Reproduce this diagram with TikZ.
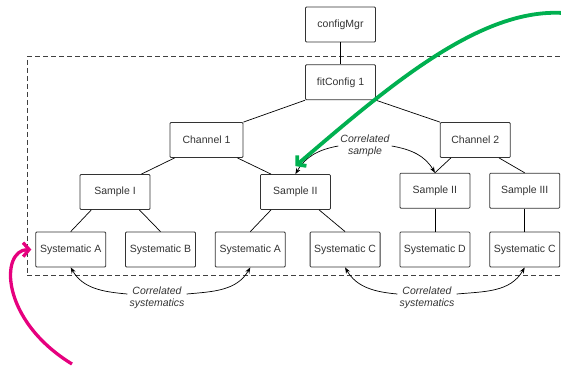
\documentclass[tikz,border=0pt]{standalone}
\usepackage{fontspec}
\setmainfont{Liberation Sans}
\usepackage{xcolor}
\usepackage{tikz}
\usetikzlibrary{arrows.meta, positioning, fit, backgrounds, calc}

\definecolor{boxline}{HTML}{333333}
\definecolor{hlgreen}{HTML}{00B050}
\definecolor{hlpink}{HTML}{E6007E}

\begin{document}
\begin{tikzpicture}[
  x=1pt, y=1pt,
  node distance=23pt and 19pt,
  box/.style={rectangle, draw=boxline, line width=0.8pt, rounded corners=1pt, minimum width=70pt, minimum height=35pt, inner sep=2pt, text=black!80, font=\fontsize{10.5}{12.5}\selectfont},
  note/.style={align=center, inner sep=2pt, text=black!80, font=\fontsize{10.5}{12}\selectfont\itshape},
  group/.style={rectangle, draw=black!75, line width=0.9pt, dash pattern=on 5pt off 3pt, inner sep=8pt},
  link/.style={draw=black, line width=0.7pt},
  arrow/.style={draw=black, line width=0.7pt, -{Stealth[length=6pt,width=4.5pt]}},
  callout/.style={line width=3.8pt, -{Straight Barb[length=6pt,width=14pt]}}
]
\useasboundingbox (0,0) rectangle (561,-365);

% Top of the tree
\node[box] (cfgmgr) at (340.5,-24.5) {configMgr};
\node[box, below=22pt of cfgmgr] (fitcfg) {fitConfig 1};

% Channels
\node[box, minimum width=73pt] (chan1) at (206.5,-140) {Channel 1};
\node[box] (chan2) at (475.3,-140) {Channel 2};

% Systematics row
\node[box] (sysA1) at (70.7,-249.5) {Systematic A};
\node[box, right=of sysA1] (sysB) {Systematic B};
\node[box, right=of sysB] (sysA2) {Systematic A};
\node[box, right=24pt of sysA2] (sysC1) {Systematic C};
\node[box, right=of sysC1] (sysD) {Systematic D};
\node[box, right=of sysD] (sysC2) {Systematic C};

% Samples
\node[box] (sI) at (115,-192) {Sample I};
\node[box] (sII) at (295.4,-192) {Sample II};
\node[box, above=of sysD] (sIIb) {Sample II};
\node[box, above=of sysC2] (sIII) {Sample III};

% Fit frame
\begin{scope}[on background layer]
  \node[group, fit=(fitcfg) (sysA1) (sysC2)] (frame) {};
\end{scope}

% Tree links
\draw[link] (cfgmgr) -- (fitcfg);
\draw[link] (fitcfg.south west) -- (chan1.north east);
\draw[link] (fitcfg.south east) -- (chan2.north west);
\draw[link] ([xshift=5pt]chan1.south west) -- ([xshift=-9pt]sI.north east);
\draw[link] ([xshift=-6pt]chan1.south east) -- ([xshift=11pt]sII.north west);
\draw[link] ([xshift=11pt]chan2.south west) -- (sIIb.north);
\draw[link] ([xshift=-11.7pt]chan2.south east) -- (sIII.north);
\draw[link] ([xshift=11.7pt]sI.south west) -- (sysA1.north);
\draw[link] ([xshift=-11pt]sI.south east) -- (sysB.north);
\draw[link] ([xshift=11pt]sII.south west) -- (sysA2.north);
\draw[link] ([xshift=-11.7pt]sII.south east) -- (sysC1.north);
\draw[link] (sIIb) -- (sysD);
\draw[link] (sIII) -- (sysC2);

% Correlation notes
\node[note] (corrsample) at (365,-146) {Correlated\\sample};
\node[note] (corrsys1) at (157,-298) {Correlated\\systematics};
\node[note] (corrsys2) at (427,-298) {Correlated\\systematics};

\draw[arrow] (corrsample.west) to[out=190,in=60] (sII.north);
\draw[arrow] (corrsample.east) to[out=-10,in=120] (sIIb.north);
\draw[arrow] ([yshift=4pt]corrsys1.west) to[out=175,in=-60] (sysA1.south);
\draw[arrow] ([yshift=4pt]corrsys1.east) to[out=5,in=-120] (sysA2.south);
\draw[arrow] ([yshift=4pt]corrsys2.west) to[out=175,in=-60] (sysC1.south);
\draw[arrow] ([yshift=4pt]corrsys2.east) to[out=5,in=-120] (sysC2.south);

% Highlight arrows
\coordinate (greenstart) at (563,-13);
\coordinate (pinkstart) at (72,-364);
\draw[callout, hlgreen] (greenstart) .. controls (480,-8) and (390,-85) .. ([yshift=8pt]sII.north);
\draw[callout, hlpink, line width=3.3pt] (pinkstart) .. controls (0,-320) and (0,-250) .. ([xshift=-4pt]sysA1.west);

\end{tikzpicture}
\end{document}
